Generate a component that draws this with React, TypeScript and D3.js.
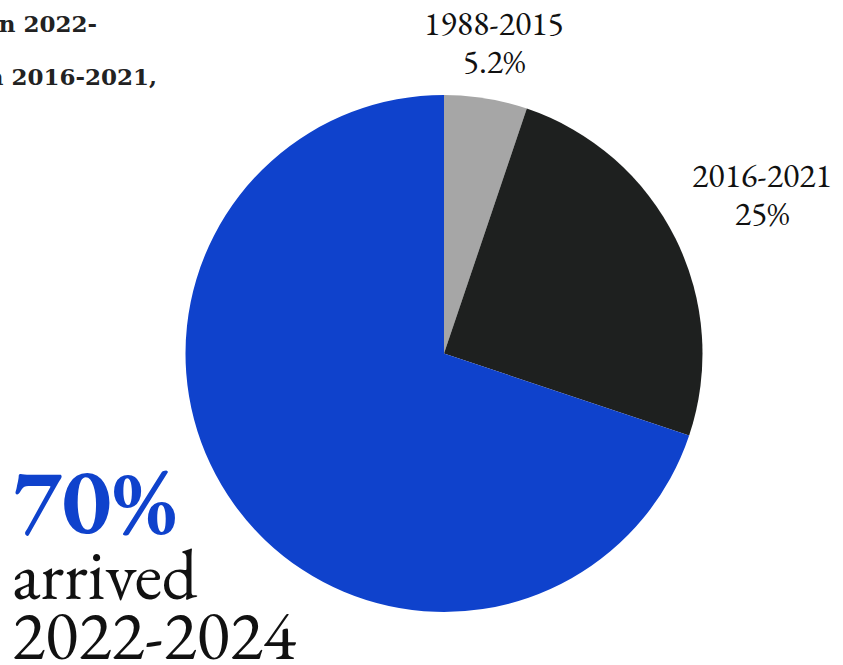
import React from 'react';
import * as d3 from 'd3';

const periods = ['1988-2015', '2016-2021', '2022-2024'];
const shares = [5.2, 25, 70];
const shareLabels = ['5.2%', '25%', '70%'];
const colors = ['#a6a6a6', '#1e201f', '#0f42cc'];
const introLines = ['in 2022-', 'in 2016-2021,'];

const W = 843;
const H = 665;
const serif = '"EB Garamond", Garamond, "Liberation Serif", "Times New Roman", serif';

export default function App() {
  const cx = 444;
  const cy = 353.5;
  const radius = 258.5;

  const pie = d3.pie<number>().sort(null).value(d => d);
  const arcs = pie(shares);
  const arc = d3.arc<d3.PieArcDatum<number>>().innerRadius(0).outerRadius(radius);

  return (
    <div style={{ position: 'absolute', left: 0, top: 0, width: W, height: H, background: '#fff' }}>
      <svg width={W} height={H} style={{ display: 'block' }} fontFamily={serif}>
        {/* cut-off intro text */}
        <g fill="#222" fontWeight="bold" fontSize={23} fontFamily='"DejaVu Serif", serif'>
          <text x={97} y={32} textAnchor="end">{introLines[0]}</text>
          <text x={157} y={85} textAnchor="end">{introLines[1]}</text>
        </g>

        <g transform={`translate(${cx},${cy})`}>
          {arcs.map((a, i) => (
            <path key={periods[i]} d={arc(a) || ''} fill={colors[i]} />
          ))}
        </g>

        {/* slice labels */}
        <g fill="#111" fontSize={34} textAnchor="middle">
          <text x={494} y={35}>{periods[0]}</text>
          <text x={494} y={73}>{shareLabels[0]}</text>
          <text x={762} y={187}>{periods[1]}</text>
          <text x={762} y={225}>{shareLabels[1]}</text>
        </g>

        {/* callout for the largest share */}
        <text x={12} y={533} fill={colors[2]} fontWeight="bold" fontSize={94}>{shareLabels[2]}</text>
        <text x={12} y={599} fill="#111" fontSize={71}>arrived</text>
        <text x={12} y={659} fill="#111" fontSize={69}>{periods[2]}</text>
      </svg>
    </div>
  );
}
